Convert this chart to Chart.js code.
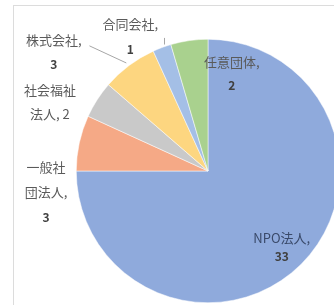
<!DOCTYPE html>
<html>
<head>
<meta charset="utf-8">
<script src="https://cdn.jsdelivr.net/npm/chart.js@4"></script>
<style>
  html, body { margin: 0; padding: 0; background: #fff; overflow: hidden; }
  #frame { position: absolute; left: 13px; top: 5px; width: 400px; height: 400px; border: 1px solid #dcdcdc; }
  #wrap { position: absolute; left: 0; top: 0; width: 416px; height: 305px; }
</style>
</head>
<body>
<div id="frame"></div>
<div id="wrap"><canvas id="grafico" width="416" height="305"></canvas></div>
<script>
// datos del gráfico
const categorias = ['NPO法人', '一般社団法人', '社会福祉法人', '株式会社', '合同会社', '任意団体'];
const valores = [33, 3, 2, 3, 1, 2];
const colores = ['#8faadc', '#f5a986', '#c9c9c9', '#fdd680', '#a4bfe6', '#a9d18e'];

// cómo se parte cada etiqueta en líneas (nombre, valor)
const cortes = [
    ['NPO法人,', '{v}'],
    ['一般社', '団法人,', '{v}'],
    ['社会福祉', '法人, {v}'],
    ['株式会社,', '{v}'],
    ['合同会社,', '{v}'],
    ['任意団体,', '{v}']
];
// posición del bloque de texto, en radios desde el centro
const posEtiquetas = [
    [0.56, 0.58], [-1.23, 0.16], [-1.20, -0.52], [-1.17, -0.90], [-0.59, -1.02], [0.18, -0.74]
];
const altoLinea = [19, 25, 24, 25, 25, 23];

const etiquetas = {
    id: 'etiquetas',
    afterDatasetsDraw(chart) {
        const ctx = chart.ctx;
        const arcos = chart.getDatasetMeta(0).data;
        const cx = arcos[0].x, cy = arcos[0].y, r = arcos[0].outerRadius;
        ctx.save();
        ctx.textAlign = 'center';
        ctx.textBaseline = 'middle';
        arcos.forEach((arco, i) => {
            const lineas = cortes[i].map(l => l.replace('{v}', valores[i]));
            const x = cx + posEtiquetas[i][0] * r;
            const y0 = cy + posEtiquetas[i][1] * r - (lineas.length - 1) * altoLinea[i] / 2;
            lineas.forEach((linea, j) => {
                const esNumero = /^\d+$/.test(linea);
                ctx.font = (esNumero ? 'bold 12px' : '13px') + ' "Noto Sans CJK JP"';
                ctx.fillStyle = esNumero ? '#404040' : '#5a5a5a';
                if (i === 0 && !esNumero) ctx.fillStyle = '#3a4a6a';
                ctx.fillText(linea, x, y0 + j * altoLinea[i]);
            });
        });
        // líneas guía
        ctx.strokeStyle = '#a6a6a6';
        ctx.lineWidth = 1;
        ctx.beginPath();
        ctx.moveTo(cx - 0.90 * r, cy - 0.95 * r);
        ctx.lineTo(cx - 0.62 * r, cy - 0.82 * r);
        ctx.moveTo(cx - 0.33 * r, cy - 1.01 * r);
        ctx.lineTo(cx - 0.33 * r, cy - 0.96 * r);
        ctx.stroke();
        ctx.restore();
    }
};

function dibujar_grafico() {
    const canvas = document.querySelector('#grafico');
    new Chart(canvas, {
        type: 'pie',
        data: {
            labels: categorias,
            datasets: [{
                data: valores,
                backgroundColor: colores,
                borderColor: '#ffffff',
                borderWidth: 0.5
            }]
        },
        options: {
            responsive: false,
            animation: false,
            devicePixelRatio: 1,
            layout: { padding: { top: 39, bottom: 2, left: 0, right: 0 } },
            plugins: {
                legend: { display: false },
                tooltip: { enabled: false }
            }
        },
        plugins: [etiquetas]
    });
}

dibujar_grafico();
</script>
</body>
</html>
